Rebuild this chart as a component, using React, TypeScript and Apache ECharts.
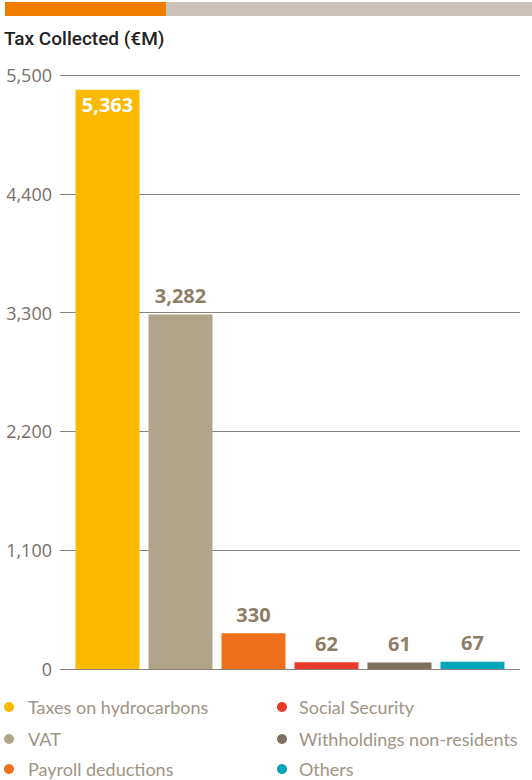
import React, { useEffect, useRef } from "react";
import * as echarts from "echarts";

const categories = [
  "Taxes on hydrocarbons",
  "VAT",
  "Payroll deductions",
  "Social Security",
  "Withholdings non-residents",
  "Others",
];
const values = [5363, 3282, 330, 62, 61, 67];
const colors = ["#fbb900", "#b0a58a", "#ee701b", "#e8392a", "#7f6f5d", "#00a6b8"];
const yTicks = [0, 1100, 2200, 3300, 4400, 5500];

export default function App() {
  const ref = useRef<HTMLDivElement>(null);
  useEffect(() => {
    if (!ref.current) return;
    const chart = echarts.init(ref.current, undefined, { renderer: "svg" });
    const yMax = yTicks[yTicks.length - 1];
    const series = categories.map((name, i) => ({
      name,
      type: "bar",
      xAxisIndex: 1,
      yAxisIndex: 1,
      stack: "all",
      barWidth: 64,
      itemStyle: { color: colors[i] },
      data: values.map((v, j) => (j === i ? v : "-")),
      label: {
        show: true,
        position: i === 0 ? "insideTop" : "top",
        distance: i === 0 ? 5 : 9,
        color: i === 0 ? "#ffffff" : "#8f7e67",
        fontFamily: "Open Sans",
        fontWeight: "bold",
        fontSize: 20,
        formatter: (p: any) => Number(p.value).toLocaleString("en-US"),
      },
    }));
    const legendPos = [
      [4, 698],
      [4, 730],
      [4, 760],
      [277, 698],
      [277, 730],
      [277, 760],
    ];
    const legends = categories.map((name, i) => ({
      data: [name],
      orient: "horizontal",
      left: legendPos[i][0],
      top: legendPos[i][1],
      padding: 0,
      icon: "circle",
      itemWidth: 12,
      itemHeight: 10,
      textStyle: {
        color: "#a09484",
        fontFamily: "Lato",
        fontSize: 18,
        padding: [0, 0, 0, i < 3 ? 8 : 6],
      },
    }));
    chart.setOption({
      animation: false,
      graphic: [
        { type: "rect", left: 5, top: 2, shape: { width: 161, height: 14 }, style: { fill: "#f07c00" } },
        { type: "rect", left: 166, top: 2, shape: { width: 366, height: 14 }, style: { fill: "#cbc3bb" } },
        {
          type: "text",
          left: 4,
          top: 29,
          style: {
            text: "Tax Collected (€M)",
            fill: "#222222",
            font: "500 19px Roboto",
          },
        },
      ],
      legend: legends,
      grid: [
        { left: 60, right: 12, top: 75, bottom: 111 },
        { left: 71, right: 23, top: 75, bottom: 111 },
      ],
      xAxis: [
        { type: "value", gridIndex: 0, show: false, min: 0, max: 1 },
        { type: "category", gridIndex: 1, show: false, data: categories },
      ],
      yAxis: [
        {
          type: "value",
          gridIndex: 0,
          min: 0,
          max: yMax,
          interval: 1100,
          axisLine: { show: false },
          axisTick: { show: false },
          splitLine: { lineStyle: { color: "#8c817a", width: 1 } },
          axisLabel: {
            margin: 8,
            color: "#7a6e68",
            fontFamily: "Open Sans",
            fontSize: 18,
            formatter: (v: number) => v.toLocaleString("en-US"),
          },
        },
        { type: "value", gridIndex: 1, min: 0, max: yMax, show: false, splitLine: { show: false } },
      ],
      series,
    });
    return () => chart.dispose();
  }, []);
  return <div ref={ref} style={{ position: "absolute", left: 0, top: 0, width: 532, height: 780 }} />;
}
